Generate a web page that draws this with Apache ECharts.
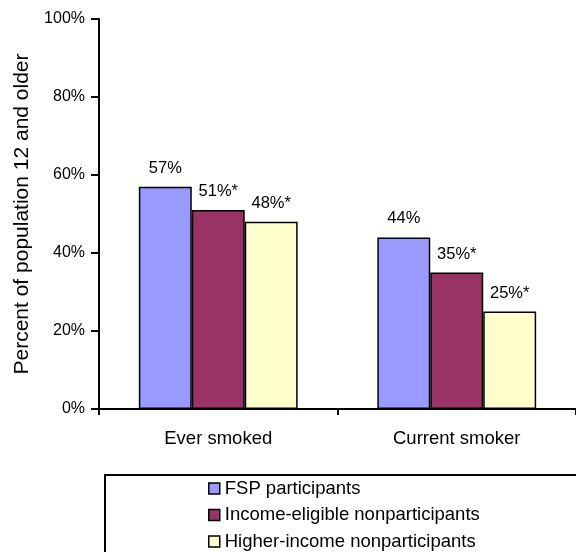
<!DOCTYPE html>
<html>
<head>
<meta charset="utf-8">
<script src="https://cdn.jsdelivr.net/npm/echarts@6/dist/echarts.min.js"></script>
<style>
  html, body { margin: 0; padding: 0; background: #fff; }
  #chart { width: 576px; height: 552px; }
</style>
</head>
<body>
<div id="chart"></div>
<script>
// Smoking prevalence by food stamp participation status
const categories = ['Ever smoked', 'Current smoker'];
const seriesNames = ['FSP participants', 'Income-eligible nonparticipants', 'Higher-income nonparticipants'];
const fspParticipants = [57, 44];
const incomeEligible = [51, 35];
const higherIncome = [48, 25];
// statistically significant difference from FSP participants
const incomeEligibleSig = [true, true];
const higherIncomeSig = [true, true];
const yTicks = [0, 20, 40, 60, 80, 100];

const colors = ['#9999FF', '#993366', '#FFFFCC'];
const font = 'Liberation Sans, Arial, sans-serif';

function makeSeries(name, values, sig, color) {
  return {
    name: name,
    type: 'bar',
    data: values,
    barGap: '0%',
    barCategoryGap: '33.4%',
    itemStyle: { color: color, borderColor: '#000', borderWidth: 1.5 },
    label: {
      show: true,
      position: 'top',
      distance: 10,
      fontFamily: font,
      fontSize: 16.5,
      color: '#000',
      formatter: p => p.value + '%' + (sig && sig[p.dataIndex] ? '*' : '')
    }
  };
}

const chart = echarts.init(document.getElementById('chart'), null, { renderer: 'canvas' });
chart.setOption({
  animation: false,
  backgroundColor: '#fff',
  grid: { left: 99, right: -3, top: 19, bottom: 143, containLabel: false },
  xAxis: {
    type: 'category',
    data: categories,
    axisLine: { lineStyle: { color: '#000', width: 2 } },
    axisTick: { show: true, length: 6, lineStyle: { color: '#000', width: 2 } },
    axisLabel: { fontFamily: font, fontSize: 18.5, color: '#000', margin: 20 }
  },
  yAxis: {
    type: 'value',
    min: yTicks[0],
    max: yTicks[yTicks.length - 1],
    interval: 20,
    name: 'Percent of population 12 and older',
    nameLocation: 'middle',
    nameGap: 57,
    nameTextStyle: { fontFamily: font, fontSize: 21, color: '#000' },
    axisLine: { show: true, lineStyle: { color: '#000', width: 2 } },
    axisTick: { show: true, length: 8, lineStyle: { color: '#000', width: 2 } },
    axisLabel: { fontFamily: font, fontSize: 16, color: '#000', margin: 14, formatter: v => v + '%' },
    splitLine: { show: false }
  },
  legend: {
    orient: 'vertical',
    left: 203,
    top: 474,
    height: 150,
    itemWidth: 11,
    itemHeight: 11,
    itemGap: 7.5,
    icon: 'rect',
    data: seriesNames,
    itemStyle: { borderColor: '#000', borderWidth: 1.5 },
    textStyle: { fontFamily: font, fontSize: 18.5, color: '#000', lineHeight: 18.5 }
  },
  graphic: [{
    type: 'rect',
    shape: { x: 105, y: 475, width: 500, height: 120 },
    style: { fill: 'none', stroke: '#000', lineWidth: 2 },
    silent: true
  }],
  series: [
    makeSeries(seriesNames[0], fspParticipants, null, colors[0]),
    makeSeries(seriesNames[1], incomeEligible, incomeEligibleSig, colors[1]),
    makeSeries(seriesNames[2], higherIncome, higherIncomeSig, colors[2])
  ]
});
</script>
</body>
</html>
